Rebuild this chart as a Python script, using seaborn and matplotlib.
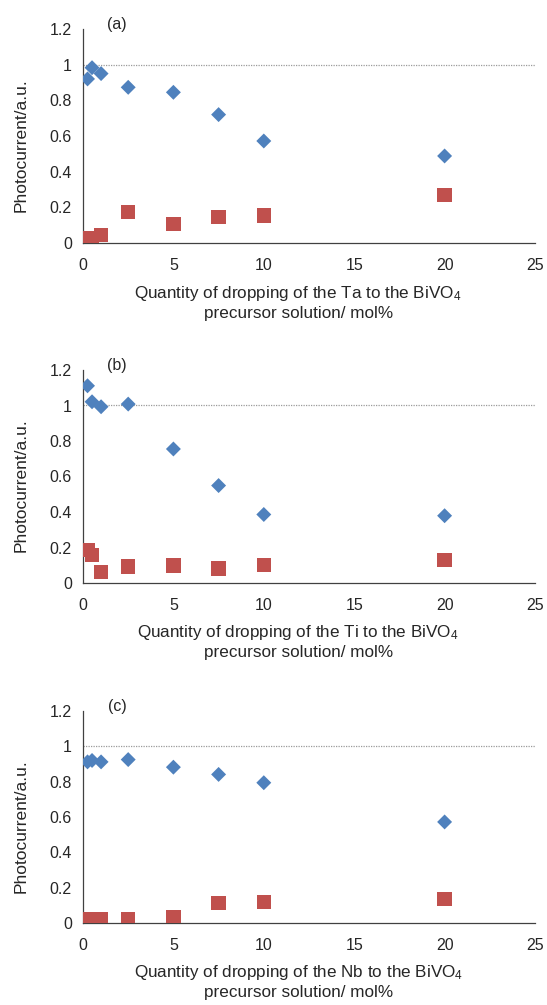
import numpy as np
import pandas as pd
import matplotlib
matplotlib.use("Agg")
import matplotlib.pyplot as plt
from matplotlib.ticker import FuncFormatter
import seaborn as sns

# ---- data ----
x_qty = [0.25, 0.5, 1, 2.5, 5, 7.5, 10, 20]

ta_blue = [0.92, 0.983, 0.95, 0.873, 0.845, 0.72, 0.572, 0.488]
ta_red = [0.028, 0.025, 0.043, 0.172, 0.105, 0.146, 0.155, 0.27]

ti_blue = [1.111, 1.021, 0.993, 1.008, 0.755, 0.549, 0.386, 0.379]
ti_red = [0.187, 0.159, 0.06, 0.093, 0.099, 0.082, 0.101, 0.131]

nb_blue = [0.912, 0.92, 0.912, 0.925, 0.882, 0.841, 0.794, 0.572]
nb_red = [0.019, 0.019, 0.019, 0.019, 0.032, 0.113, 0.12, 0.137]

panel_tags = ["(a)", "(b)", "(c)"]
elements = ["Ta", "Ti", "Nb"]
y_ticks = [0, 0.2, 0.4, 0.6, 0.8, 1.0, 1.2]
x_ticks = [0, 5, 10, 15, 20, 25]
ref_level = 1.0

blue_series = [ta_blue, ti_blue, nb_blue]
red_series = [ta_red, ti_red, nb_red]

# ---- style ----
sns.set_style("white")
plt.rcParams['font.family'] = ['Liberation Sans', 'DejaVu Sans']
plt.rcParams['mathtext.fontset'] = 'custom'
plt.rcParams['mathtext.rm'] = 'Liberation Sans'
plt.rcParams['mathtext.it'] = 'Liberation Sans'

BLUE = "#4F81BD"
RED = "#C0504D"
TXT = "#262626"

W, H = 547, 1005
fig = plt.figure(figsize=(W / 100, H / 100), dpi=100)

# axes pixel boxes: (left, top, right, bottom)
boxes = [(83, 29, 535, 243), (83, 370, 535, 583), (83, 711, 535, 923)]

for i in range(3):
    l, t, r, b = boxes[i]
    ax = fig.add_axes([l / W, 1 - b / H, (r - l) / W, (b - t) / H])
    df = pd.DataFrame({"x": x_qty, "blue": blue_series[i], "red": red_series[i]})
    ax.axhline(ref_level, color="#9a9a9a", lw=0.9, ls=(0, (1, 1)), zorder=1)
    sns.scatterplot(data=df, x="x", y="blue", marker="D", s=58, color=BLUE,
                    edgecolor="none", ax=ax, zorder=3)
    sns.scatterplot(data=df, x="x", y="red", marker="s", s=106, color=RED,
                    edgecolor="none", ax=ax, zorder=3)
    ax.set_xlim(0, 25)
    ax.set_ylim(0, 1.2)
    ax.set_xticks(x_ticks)
    ax.set_yticks(y_ticks)
    ax.yaxis.set_major_formatter(FuncFormatter(lambda v, p: f"{v:g}"))
    for s in ["top", "right"]:
        ax.spines[s].set_visible(False)
    for s in ["left", "bottom"]:
        ax.spines[s].set_color("#404040")
        ax.spines[s].set_linewidth(0.9)
    ax.tick_params(axis="both", direction="out", length=4, width=0.9,
                   color="#404040", labelsize=11.5, labelcolor=TXT, pad=4)
    ax.tick_params(axis="x", pad=7)
    ax.set_ylabel("Photocurrent/a.u.", fontsize=12.5, color=TXT)
    ax.yaxis.set_label_coords(-0.137, 0.458, transform=ax.transAxes)
    ax.yaxis.label.set_va("center")
    ax.set_xlabel(f"Quantity of dropping of the {elements[i]} to the BiVO$_4$\nprecursor solution/ mol%",
                  fontsize=12.3, color=TXT, linespacing=1.25)
    ax.xaxis.set_label_coords(0.476, -0.19, transform=ax.transAxes)
    ax.xaxis.label.set_va("top")
    ax.text(0.075, 1.02, panel_tags[i], transform=ax.transAxes, fontsize=11.5,
            color=TXT, ha="center", va="center")

fig.savefig("out.png", dpi=100)
